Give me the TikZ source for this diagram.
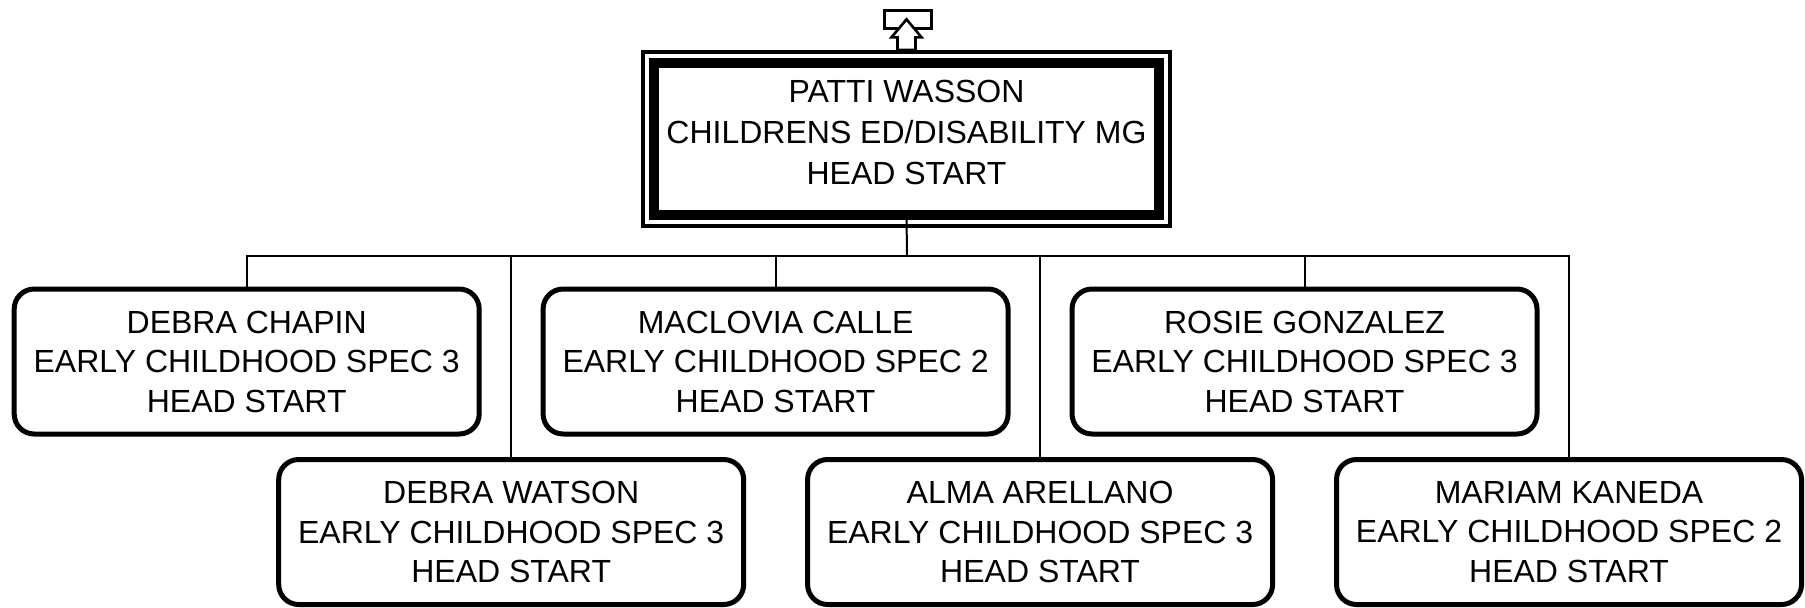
\documentclass[tikz,border=0pt]{standalone}
\usepackage{fontspec}
\setmainfont{Liberation Sans}
\begin{document}
\begin{tikzpicture}[x=0.5pt,y=-0.5pt,
  emp/.style={draw, line width=2.5pt, rounded corners=10pt, minimum width=232.5pt, minimum height=72.5pt,
    align=center, inner sep=0pt, outer sep=0pt, font=\fontsize{16}{19.75}\selectfont, fill=white},
  boss/.style={draw, line width=5.4pt, minimum width=252.5pt, minimum height=76pt,
    inner sep=0pt, outer sep=0pt},
  bosstext/.style={align=center, inner sep=0pt, font=\fontsize{16}{20.5}\selectfont},
  link/.style={line width=1pt},
  thin/.style={line width=1.3pt, fill=white}]
\useasboundingbox (0,0) rectangle (1805,607);

\node[boss] (P) at (906.5,139) {};
\node[bosstext] (Pt) at ([yshift=3.5pt]P.center) {PATTI WASSON\\CHILDRENS ED/DISABILITY MG\\HEAD START};
\draw[line width=2pt] ([xshift=-5.5pt,yshift=5.5pt]P.north west) rectangle ([xshift=5.5pt,yshift=-5.5pt]P.south east);

\node[thin, draw, minimum width=23.75pt, minimum height=8.75pt, inner sep=0pt] (up) at (908,19.5) {};
\coordinate (ab) at ([yshift=6.5pt]P.north);
\draw[thin] (ab) ++(-9,0) -- ++(0,-12.7) -- ++(-6,0) -- ++(15,-18) -- ++(15,18) -- ++(-6,0) -- ++(0,12.7) -- cycle;

\node[emp] (c0) at (246.7,361.5) {DEBRA CHAPIN\\EARLY CHILDHOOD SPEC 3\\HEAD START};
\node[emp] (c1) at (511.2,532) {DEBRA WATSON\\EARLY CHILDHOOD SPEC 3\\HEAD START};
\node[emp] (c2) at (775.6,361.5) {MACLOVIA CALLE\\EARLY CHILDHOOD SPEC 2\\HEAD START};
\node[emp] (c3) at (1040.1,532) {ALMA ARELLANO\\EARLY CHILDHOOD SPEC 3\\HEAD START};
\node[emp] (c4) at (1304.5,361.5) {ROSIE GONZALEZ\\EARLY CHILDHOOD SPEC 3\\HEAD START};
\node[emp] (c5) at (1569,532) {MARIAM KANEDA\\EARLY CHILDHOOD SPEC 2\\HEAD START};

\coordinate (bus) at (907,256);
\draw[link] (P.south) -- (bus);
\draw[link] (c0.north) |- (bus) -| (c5.north);
\foreach \c in {c1,c2,c3,c4}{\draw[link] (\c.north) -- (\c.north |- bus);}
\end{tikzpicture}
\end{document}
